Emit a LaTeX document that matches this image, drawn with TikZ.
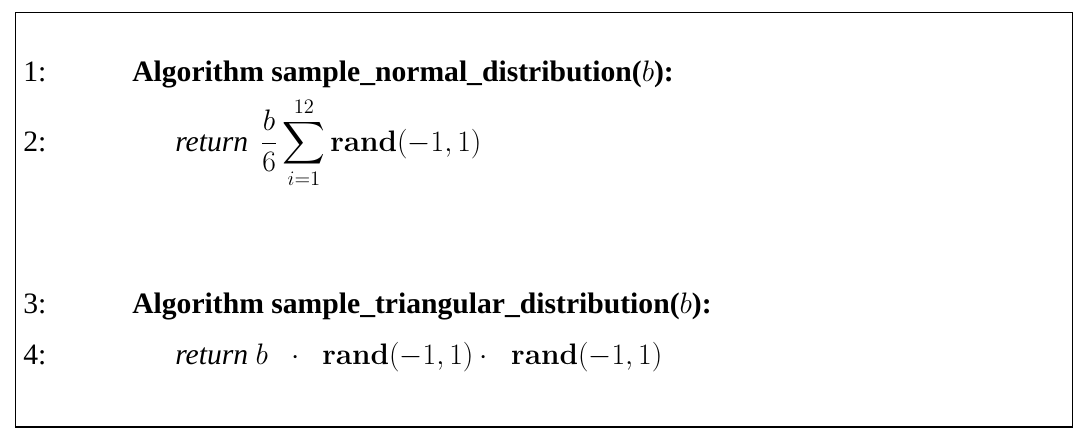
\documentclass[tikz,border=0pt]{standalone}
\usepackage{exscale}
\usepackage[no-math]{fontspec}
\setmainfont{Liberation Serif}
\begin{document}
\begin{tikzpicture}[x=0.7pt,y=-0.7pt,
  txt/.style={anchor=base west,inner sep=0pt,font=\fontsize{20.74}{24}\selectfont},
  frame/.style={draw=black,line width=0.6pt}]
\useasboundingbox (0,0) rectangle (1083,437);
\coordinate (tl) at (15.5,12.5);
\coordinate (tr) at (1072,12.5);
\coordinate (bl) at (15.5,427);
\coordinate (br) at (1072,427);
\draw[frame] (bl) -- (tl) -- (tr) -- (br);
\draw[draw=black,line width=1.4pt] ([xshift=-0.5pt]bl) -- ([xshift=0.5pt]br);
\node[txt] (n1) at (23,81) {1:};
\node[txt] (l1) at (132,81) {\textbf{Algorithm sample\_normal\_distribution(}$b$\textbf{):}};
\node[txt] (n2) at (23,151) {2:};
\node[txt] (l2) at (175,151) {\textit{return}\, $\displaystyle\frac{b}{6}\sum_{i=1}^{12}\mathbf{rand}(-1,1)$};
\node[txt] (n3) at (23,313) {3:};
\node[txt] (l3) at (132,313) {\textbf{Algorithm sample\_triangular\_distribution(}$b$\textbf{):}};
\node[txt] (n4) at (23,364) {4:};
\node[txt] (l4) at (175,364) {\textit{return} $b\;\;\cdot\;\;\mathbf{rand}(-1,1)\cdot\;\;\mathbf{rand}(-1,1)$};
\end{tikzpicture}
\end{document}
